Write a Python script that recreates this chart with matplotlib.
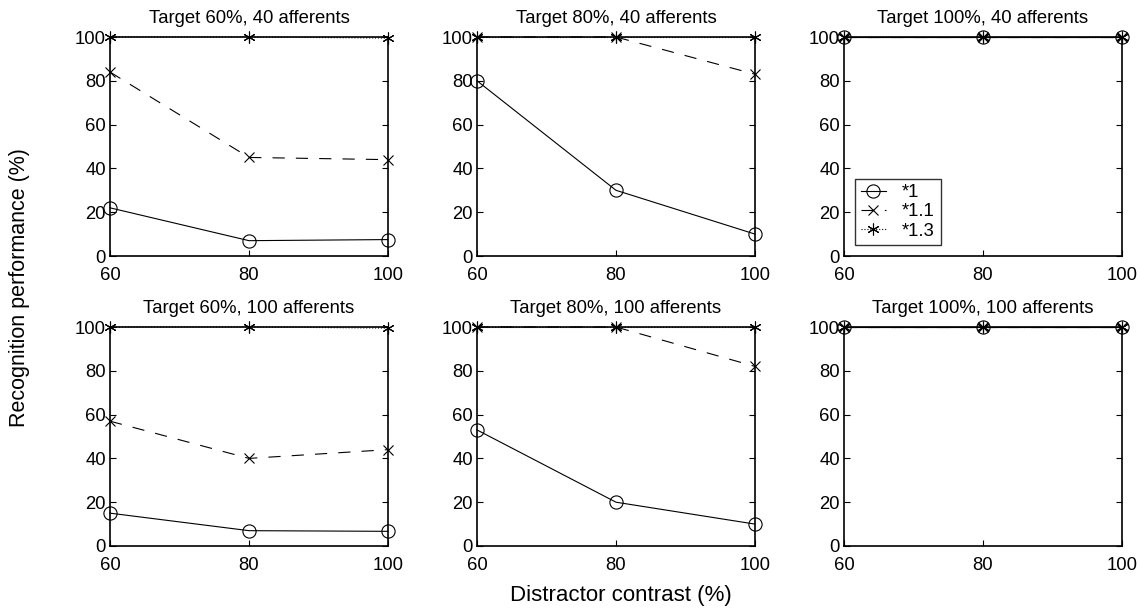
import matplotlib
matplotlib.use("Agg")
import matplotlib.pyplot as plt

plt.rcParams['font.family'] = ['Liberation Sans', 'DejaVu Sans']

contrast = [60, 80, 100]
titles = ["Target 60%, 40 afferents", "Target 80%, 40 afferents", "Target 100%, 40 afferents",
          "Target 60%, 100 afferents", "Target 80%, 100 afferents", "Target 100%, 100 afferents"]
labels = ["*1", "*1.1", "*1.3"]

s1 = [[22, 7, 7.5], [80, 30, 10], [100, 100, 100],
      [15, 7, 6.7], [53, 20, 10], [100, 100, 100]]
s11 = [[84, 45, 44], [100, 100, 83], [100, 100, 100],
       [57, 40, 44], [100, 100, 82], [100, 100, 100]]
s13 = [[100, 100, 99.5], [100, 100, 100], [100, 100, 100],
       [100, 100, 99.5], [100, 100, 100], [100, 100, 100]]

W, H = 1141, 612
fig = plt.figure(figsize=(W / 100, H / 100), dpi=100)

lefts = [110, 477, 844]
tops = [37, 327]
aw, ah = 278, 219

asterisk = (6, 2, 0)
for i in range(6):
    r, c = divmod(i, 3)
    x0 = lefts[c] / W
    y0 = 1 - (tops[r] + ah) / H
    ax = fig.add_axes([x0, y0, aw / W, ah / H])
    ax.plot(contrast, s1[i], '-', color='k', lw=0.8, marker='o', ms=9.5,
            mfc='none', mew=0.8, clip_on=False, label=labels[0])
    ax.plot(contrast, s11[i], '--', color='k', lw=0.8, marker='x', ms=7.5,
            mew=0.8, clip_on=False, label=labels[1], dashes=(11, 10))
    ax.plot(contrast, s13[i], ':', color='k', lw=0.8, marker=asterisk, ms=8.5,
            mew=0.8, clip_on=False, label=labels[2])
    ax.set_xlim(60, 100)
    ax.set_ylim(0, 100)
    ax.set_xticks(contrast)
    ax.set_yticks([0, 20, 40, 60, 80, 100])
    ax.tick_params(direction='in', top=True, right=True, labelsize=13.3,
                   length=4, width=0.8)
    ax.tick_params(axis='x', pad=8)
    ax.tick_params(axis='y', pad=3)
    for sp in ax.spines.values():
        sp.set_linewidth(1.2)
    ax.set_title(titles[i], fontsize=13.3, pad=10.4)
    if i == 2:
        leg = ax.legend(loc='lower left', bbox_to_anchor=(0.04, 0.05), borderaxespad=0,
                        fontsize=13.3, frameon=True, fancybox=False, edgecolor='k',
                        handlelength=1.35, handletextpad=0.9, labelspacing=0.12,
                        borderpad=0.3)
        leg.get_frame().set_linewidth(1.0)

fig.text(621 / W, 1 - 595 / H, "Distractor contrast (%)", ha='center', va='center', fontsize=16)
fig.text(20 / W, 1 - 288 / H, "Recognition performance (%)", ha='center', va='center',
         rotation=90, fontsize=15.5)

fig.savefig("out.png", dpi=100)
